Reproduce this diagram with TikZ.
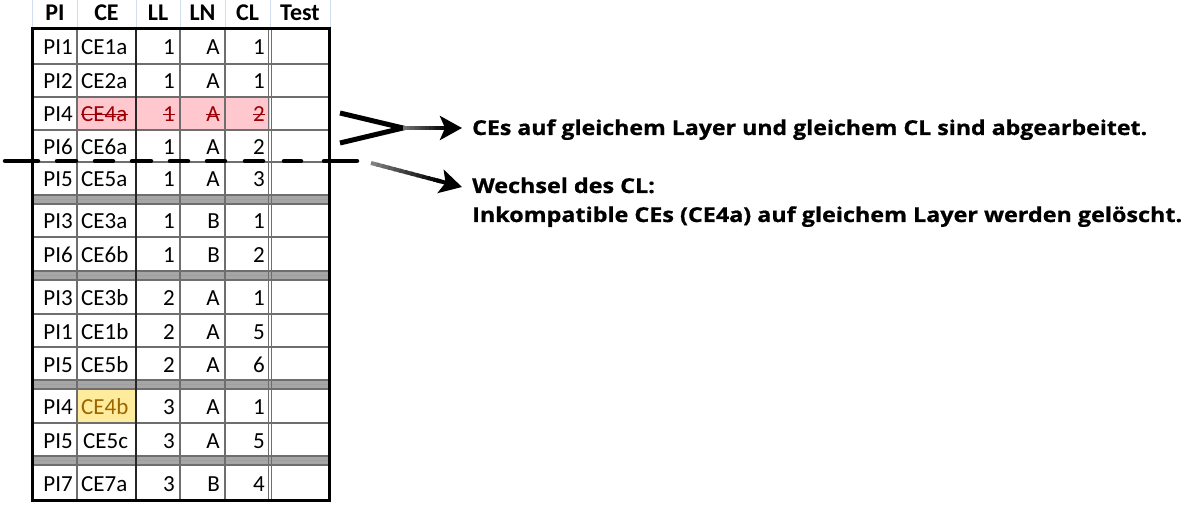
\documentclass[tikz,border=0pt]{standalone}
\usepackage{fontspec}
\setmainfont{Carlito}
\newfontfamily\annfont{Open Sans}[BoldFeatures={FakeBold=0.8}]
\usetikzlibrary{calc,arrows.meta}
\definecolor{badfill}{HTML}{FFC7CE}
\definecolor{badtext}{HTML}{9C0006}
\definecolor{neutfill}{HTML}{FFEB9C}
\definecolor{neuttext}{HTML}{9C6500}
\definecolor{neutline}{HTML}{F0CF70}
\definecolor{hdrgrid}{HTML}{D0DEEE}
\definecolor{sepfill}{HTML}{A6A6A6}
\definecolor{gridline}{HTML}{6E6E6E}
\newcommand\tabfont{\fontsize{23pt}{27pt}\selectfont}
\newcommand\hdrfont{\fontsize{24pt}{27pt}\selectfont\bfseries}
\newcommand\annsize{\annfont\bfseries\fontsize{20.5pt}{29pt}\selectfont}
\newsavebox\annbox
\newlength\annw
\tikzset{
  cell/.style={inner sep=0pt, font=\tabfont},
  hdr/.style={inner sep=0pt, font=\hdrfont, anchor=base},
  norm/.style={text=black},
  bad/.style={text=badtext},
  neut/.style={text=neuttext},
  rowline/.style={draw=gridline, line width=1.4pt},
  colline/.style={draw=gridline, line width=1.4pt},
  strike/.style={draw=badtext, line width=1.3pt},
  dashseg/.style={draw=black, line width=4.5pt, line cap=round},
  chevron/.style={draw=black, line width=5pt},
  ann/.style={inner sep=0pt, anchor=base west},
  headtip/.style={-{Stealth[length=22pt,width=24pt,inset=5pt]}},
}
\begin{document}
\sbox\annbox{\annsize CEs auf gleichem Layer und gleichem CL sind abgearbeitet.}%
\setlength\annw{\wd\annbox}%
\pgfmathsetmacro\sxa{675/\annw}%
\sbox\annbox{\annsize Inkompatible CEs (CE4a) auf gleichem Layer werden gelöscht.}%
\setlength\annw{\wd\annbox}%
\pgfmathsetmacro\sxb{710/\annw}%
\begin{tikzpicture}[x=1pt,y=-1pt]
\useasboundingbox (0,0) rectangle (1184,505);
% header grid
\foreach \x in {32,77,136,180,225,270,330}
  \draw[hdrgrid, line width=1pt] (\x,0) -- (\x,29);
% header texts
\node[hdr] (hPI) at (55,21) {PI};
\node[hdr] (hCE) at (106.5,21) {CE};
\node[hdr] (hLL) at (158,21) {LL};
\node[hdr] (hLN) at (202.5,21) {LN};
\node[hdr] (hCL) at (247.5,21) {CL};
\node[hdr] (hTest) at (300,21) {Test};
% highlight fills
\fill[badfill] (77,97) rectangle (270,130);
\filldraw[fill=neutfill, draw=neutline, line width=1pt] (77,389) rectangle (136,423);
% separators
\foreach \t in {195,271,380,456}{
  \fill[sepfill] (32,\t) rectangle (329,\t+9);
  \draw[gridline, line width=1.2pt] (32,\t) -- (329,\t);
  \draw[gridline, line width=1.2pt] (32,\t+9) -- (329,\t+9);
  \draw[gray!75, line width=0.8pt] (32,\t+4.5) -- (329,\t+4.5);
}
% row lines
\foreach \y in {64,97,130,162,237,314,347,423}
  \draw[rowline] (32,\y) -- (329,\y);
% column lines
\foreach \x in {77,180,225}
  \draw[colline] (\x,29) -- (\x,500);
\draw[draw=black!85, line width=2pt] (136,29) -- (136,500);
\draw[draw=gridline, line width=1pt] (268.5,29) -- (268.5,500);
\draw[draw=gridline, line width=1pt] (271.5,29) -- (271.5,500);
% outer border
\draw[black, line width=3pt] (32,29) rectangle (329,500);
% rows
\foreach \p/\c/\l/\n/\q/\t/\b/\k/\sa/\sb/\cx in {
  PI1/CE1a/1/A/1/29/64/1/norm/norm/81,
  PI2/CE2a/1/A/1/64/97/2/norm/norm/81,
  PI4/CE4a/1/A/2/97/130/3/bad/bad/81,
  PI6/CE6a/1/A/2/130/162/4/norm/norm/81,
  PI5/CE5a/1/A/3/162/195/5/norm/norm/81,
  PI3/CE3a/1/B/1/204/237/6/norm/norm/81,
  PI6/CE6b/1/B/2/237/271/7/norm/norm/81,
  PI3/CE3b/2/A/1/280/314/8/norm/norm/81,
  PI1/CE1b/2/A/5/314/347/9/norm/norm/81,
  PI5/CE5b/2/A/6/347/380/10/norm/norm/81,
  PI4/CE4b/3/A/1/389/423/11/neut/norm/81,
  PI5/CE5c/3/A/5/423/456/12/norm/norm/83,
  PI7/CE7a/3/B/4/465/500/13/norm/norm/81}{
  \pgfmathsetmacro\by{(\t+\b)/2+8.5}
  \node[cell, norm, anchor=base east] (pi\k) at (73,\by) {\p};
  \node[cell, \sa, anchor=base west] (ce\k) at (\cx,\by) {\c};
  \node[cell, \sb, anchor=base east] (ll\k) at (175,\by) {\l};
  \node[cell, \sb, anchor=base east] (ln\k) at (220,\by) {\n};
  \node[cell, \sb, anchor=base east] (cl\k) at (265,\by) {\q};
}
% strike-through of the incompatible row
\foreach \nm in {ce3,ll3,ln3,cl3}
  \draw[strike] ([yshift=7.5pt]\nm.base west) -- ([yshift=7.5pt]\nm.base east);
% dashed cut line
\foreach \a/\e in {5/38,57/76,95/113,132/151,170/188,207/225,245/263,284/301,324/357}
  \draw[dashseg] (\a,161) -- (\e,161);
% chevron
\coordinate (chtop) at (340,113);
\coordinate (chtip) at (403,128);
\coordinate (chbot) at (340,143);
\draw[chevron] (chtop) -- (chtip) -- (chbot);
% arrow 1
\coordinate (a1e) at (462,128);
\foreach \i in {0,...,11}{
  \pgfmathsetmacro\ta{\i/16}
  \pgfmathsetmacro\tb{(\i+1.3)/16}
  \pgfmathsetmacro\cc{55+45*\i/11}
  \draw[line width=4pt, color=black!\cc] ($(chtip)!\ta!(a1e)$) -- ($(chtip)!\tb!(a1e)$);
}
\draw[line width=4pt, headtip] ($(chtip)!0.72!(a1e)$) -- (a1e);
% arrow 2
\coordinate (a2s) at (371,163);
\coordinate (a2e) at (462,187);
\foreach \i in {0,...,11}{
  \pgfmathsetmacro\ta{\i/16}
  \pgfmathsetmacro\tb{(\i+1.3)/16}
  \pgfmathsetmacro\cc{50+50*\i/11}
  \draw[line width=4pt, color=black!\cc] ($(a2s)!\ta!(a2e)$) -- ($(a2s)!\tb!(a2e)$);
}
\draw[line width=4pt, headtip] ($(a2s)!0.72!(a2e)$) -- (a2e);
% annotation texts
\node[ann] (t1) at (472,135) {\scalebox{\sxa}[1]{\annsize CEs auf gleichem Layer und gleichem CL sind abgearbeitet.}};
\node[ann] (t2) at (472,193) {\scalebox{\sxb}[1]{\annsize Wechsel des CL:}};
\node[ann] (t3) at (472,222) {\scalebox{\sxb}[1]{\annsize Inkompatible CEs (CE4a) auf gleichem Layer werden gelöscht.}};
\end{tikzpicture}
\end{document}
